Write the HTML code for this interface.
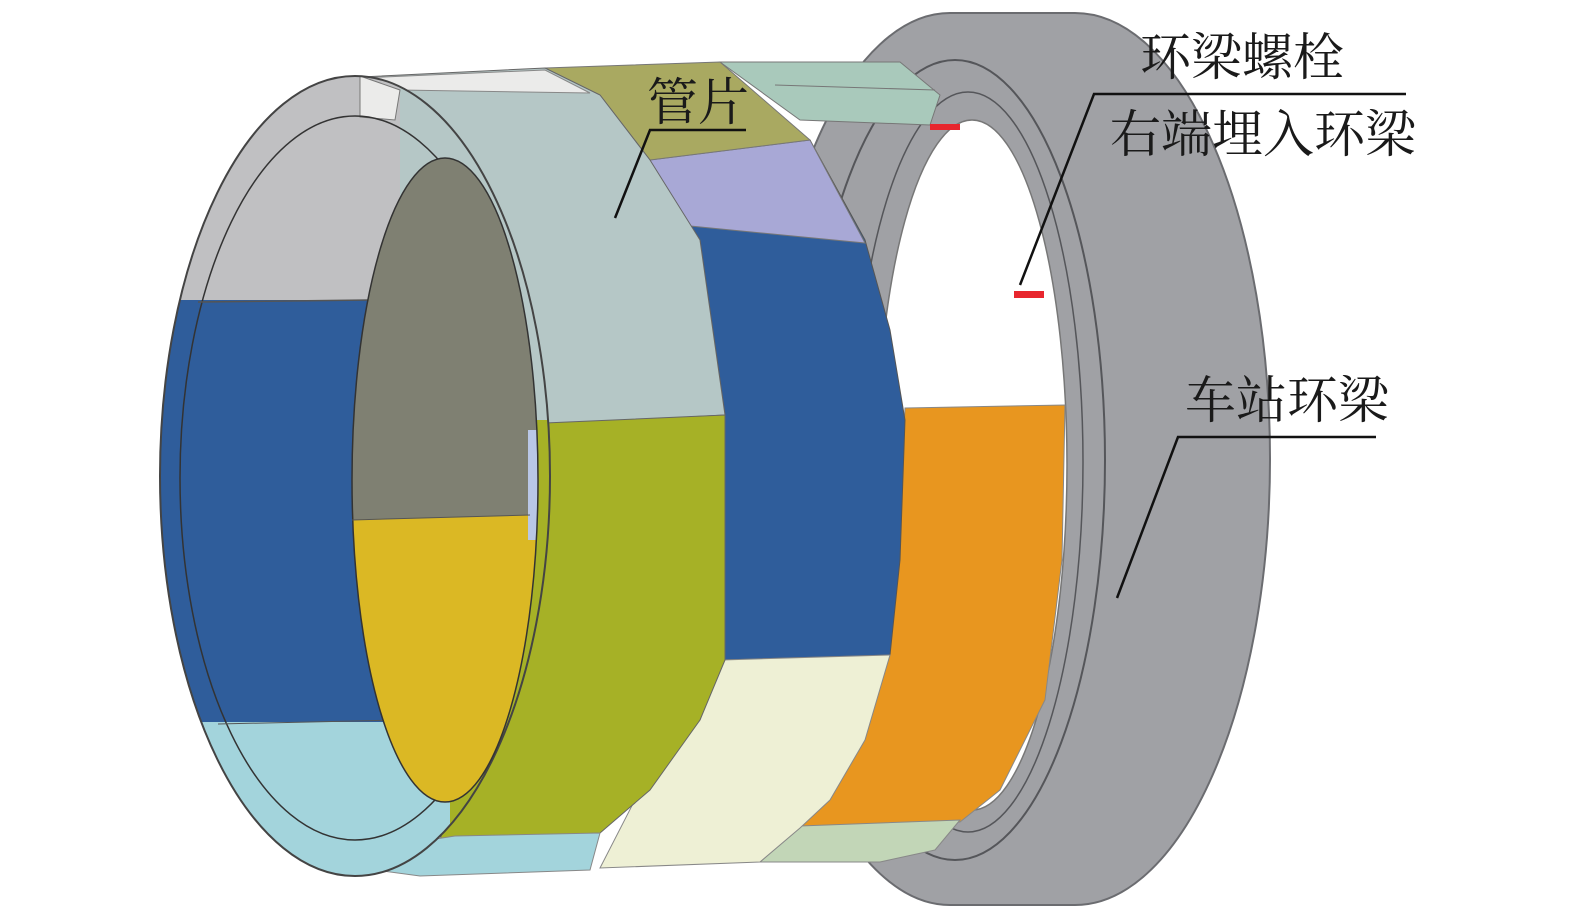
<!DOCTYPE html>
<html><head><meta charset="utf-8"><style>
html,body{margin:0;padding:0;background:#fff;width:1575px;height:923px;overflow:hidden}
svg{display:block}
text{font-family:"Liberation Serif","Noto Serif CJK SC","Noto Sans CJK SC",serif;font-size:51px;fill:#1a1a1a}
</style></head><body>
<svg width="1575" height="923" viewBox="0 0 1575 923" xmlns="http://www.w3.org/2000/svg">
<defs>
<clipPath id="face"><ellipse cx="355" cy="476" rx="195" ry="400"/></clipPath>
<clipPath id="hole"><ellipse cx="445" cy="480" rx="93" ry="322"/></clipPath>
</defs>
<!-- station ring -->
<path d="M950,13 L1075,13 A195,446 0 0 1 1075,905 L950,905 A190,446 0 0 1 950,13 Z" fill="#a0a1a5" stroke="#6b6c70" stroke-width="2"/>
<ellipse cx="955" cy="460" rx="150" ry="400" fill="none" stroke="#55565a" stroke-width="2"/>
<ellipse cx="968" cy="462" rx="115" ry="370" fill="none" stroke="#55565a" stroke-width="1.5"/>
<ellipse cx="972" cy="465" rx="95" ry="345" fill="#fff" stroke="#777" stroke-width="1.5"/>
<!-- back ring -->
<polygon points="905,408 1065,405 1062,560 1045,700 1000,790 960,822 800,828 850,740 890,650 900,520" fill="#e8961f" stroke="#888" stroke-width="1"/>
<polygon points="800,826 960,820 935,850 880,862 760,862" fill="#c2d6b7" stroke="#888" stroke-width="1"/>
<polygon points="720,62 900,62 940,95 930,125 800,120" fill="#a9c9bb" stroke="#777" stroke-width="1"/>
<line x1="775" y1="85" x2="935" y2="90" stroke="#777" stroke-width="1"/>
<rect x="930" y="124" width="30" height="6" fill="#e8262e"/>
<rect x="1014" y="291" width="30" height="7" fill="#e8262e"/>
<!-- middle ring -->
<polygon points="650,160 810,140 865,240 890,330 905,420 900,560 890,655 722,660 725,415 700,240" fill="#2f5d9b" stroke="#555" stroke-width="1"/>
<polygon points="650,160 810,140 865,243 680,225" fill="#a8a8d6" stroke="#777" stroke-width="1"/>
<polygon points="545,68 720,62 810,140 650,160 600,95" fill="#a9a961" stroke="#777" stroke-width="1"/>
<polygon points="722,660 890,655 865,740 830,800 800,828 760,862 600,868 640,790 700,720" fill="#eef0d5" stroke="#888" stroke-width="1"/>
<!-- front ring body -->
<polygon points="340,78 545,68 600,95 650,160 700,240 725,415 535,425 500,300 450,160 400,100" fill="#b5c7c6" stroke="#666" stroke-width="1"/>
<polygon points="360,78 545,70 590,93 400,90" fill="#ebebea" stroke="#888" stroke-width="1"/>
<polygon points="500,425 725,415 725,660 700,720 650,790 600,833 440,840 480,700 510,560" fill="#a6b126" stroke="#666" stroke-width="1"/>
<polygon points="300,860 455,836 600,833 590,870 420,876" fill="#a3d4dc" stroke="#888" stroke-width="1"/>
<!-- front face -->
<g clip-path="url(#face)">
<rect x="150" y="60" width="420" height="840" fill="#2f5d9b"/>
<polygon points="150,60 570,60 570,300 150,300" fill="#c0c0c2"/>
<polygon points="400,60 570,60 570,425 400,425" fill="#b5c7c6"/>
<polygon points="400,420 570,420 570,900 400,900" fill="#a6b126"/>
<polygon points="150,722 450,722 450,900 150,900" fill="#a3d4dc"/>
<polygon points="360,76 400,90 395,120 360,117" fill="#ebebea" stroke="#777" stroke-width="1"/>
</g>
<ellipse cx="355" cy="476" rx="195" ry="400" fill="none" stroke="#444" stroke-width="2"/>
<ellipse cx="355" cy="478" rx="175" ry="362" fill="none" stroke="#333" stroke-width="1.5"/>
<line x1="198" y1="302" x2="370" y2="300" stroke="#555" stroke-width="1.5"/>
<line x1="218" y1="724" x2="400" y2="720" stroke="#555" stroke-width="1"/>
<!-- hole -->
<g clip-path="url(#hole)">
<rect x="340" y="150" width="220" height="370" fill="#7f8072"/>
<polygon points="340,520 530,515 560,515 560,820 340,820" fill="#dbb824"/>
<rect x="528" y="430" width="12" height="110" fill="#b9c7e6"/>
</g>
<ellipse cx="445" cy="480" rx="93" ry="322" fill="none" stroke="#333" stroke-width="1.5"/>
<line x1="352" y1="520" x2="530" y2="515" stroke="#555" stroke-width="1"/>
<!-- labels -->
<text x="1140" y="75">环梁螺栓</text>
<text x="1110" y="152">右端埋入环梁</text>
<polyline points="1020,285 1094,94 1406,94" fill="none" stroke="#111" stroke-width="2.5"/>
<text x="647" y="120">管片</text>
<polyline points="615,218 650,130 746,130" fill="none" stroke="#111" stroke-width="2.5"/>
<text x="1185" y="418">车站环梁</text>
<polyline points="1117,598 1178,437 1376,437" fill="none" stroke="#111" stroke-width="2.5"/>
</svg>
</body></html>
